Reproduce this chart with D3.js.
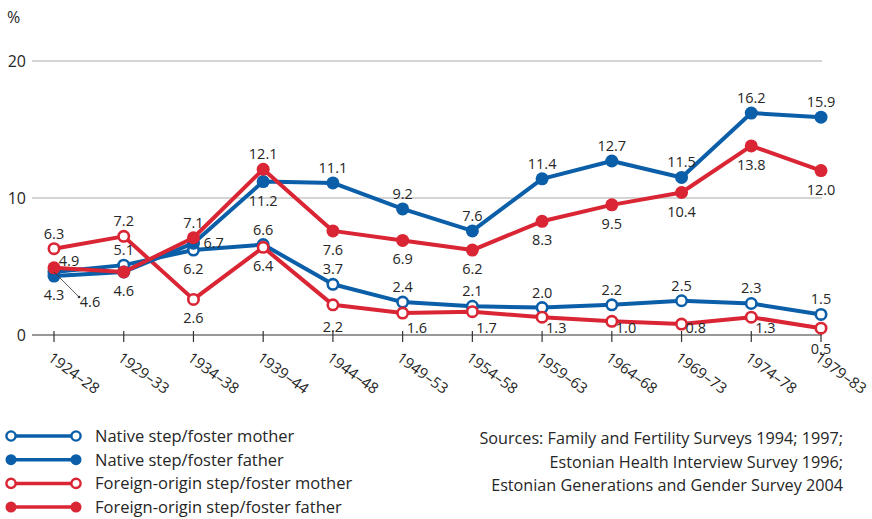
<!DOCTYPE html>
<html>
<head>
<meta charset="utf-8">
<script src="https://cdn.jsdelivr.net/npm/d3@7"></script>
<style>
  body { margin: 0; background: #fff; }
  svg text { font-family: "Open Sans", "Noto Sans", sans-serif; fill: #262626; }
</style>
</head>
<body>
<div id="chart"></div>
<script>
// data
const cohorts = ['1924–28','1929–33','1934–38','1939–44','1944–48','1949–53',
                 '1954–58','1959–63','1964–68','1969–73','1974–78','1979–83'];
const nativeMother  = [4.6, 5.1, 6.2, 6.6, 3.7, 2.4, 2.1, 2.0, 2.2, 2.5, 2.3, 1.5];
const nativeFather  = [4.3, 4.6, 6.7, 11.2, 11.1, 9.2, 7.6, 11.4, 12.7, 11.5, 16.2, 15.9];
const foreignMother = [6.3, 7.2, 2.6, 6.4, 2.2, 1.6, 1.7, 1.3, 1.0, 0.8, 1.3, 0.5];
const foreignFather = [4.9, 4.6, 7.1, 12.1, 7.6, 6.9, 6.2, 8.3, 9.5, 10.4, 13.8, 12.0];
const yTicks = [0, 10, 20];
const sources = ['Sources: Family and Fertility Surveys 1994; 1997;',
                 'Estonian Health Interview Survey 1996;',
                 'Estonian Generations and Gender Survey 2004'];

// label placement codes: a = above, b = below, r = right, x = on axis right of tick,
// xc = on axis centred, bx = under axis, s = skip, l = leader, n = upper right
const placeNM = ['l','a','b','a','a','a','a','a','a','a','a','a'];
const placeNF = ['b','b','r','b','a','a','a','a','a','a','a','a'];
const placeFM = ['a','a','b','b','xc','x','x','x','x','x','x','bx'];
const placeFF = ['n','s','a','a','b','b','b','b','b','b','b','b'];

const blue = '#0b5ea8', red = '#d92534';

const W = 872, H = 519;
const svg = d3.select('#chart').append('svg').attr('width', W).attr('height', H);

const x = d3.scalePoint(cohorts, [54, 821]);
const y = d3.scaleLinear([0, 20], [335, 61]);

// gridlines
svg.append('g').selectAll('line').data(yTicks.filter(d => d > 0)).join('line')
  .attr('x1', 32).attr('x2', 822)
  .attr('y1', d => y(d)).attr('y2', d => y(d))
  .attr('stroke', '#aaa').attr('stroke-width', 1);

// y labels
svg.append('g').selectAll('text').data(yTicks).join('text')
  .attr('x', 26).attr('y', d => y(d) + 6)
  .attr('text-anchor', 'end').style('font-size', '16px')
  .text(d => d);
svg.append('text').attr('x', 7).attr('y', 23).style('font-size', '16px').text('%');

// x axis
const axisG = svg.append('g').attr('transform', `translate(0,${y(0)})`);
axisG.append('line').attr('x1', 32).attr('x2', 822).attr('stroke', '#333').attr('stroke-width', 1.2);
axisG.selectAll('line.tick').data(cohorts).join('line')
  .attr('class', 'tick')
  .attr('x1', d => x(d)).attr('x2', d => x(d))
  .attr('y1', -4).attr('y2', 7)
  .attr('stroke', '#333').attr('stroke-width', 1.2);
axisG.selectAll('text').data(cohorts).join('text')
  .attr('transform', d => `translate(${x(d) - 7},${25}) rotate(36)`)
  .style('font-size', '15px')
  .text(d => d);

const series = [
  {vals: nativeMother,  color: blue, open: true,  place: placeNM},
  {vals: foreignMother, color: red,  open: true,  place: placeFM},
  {vals: nativeFather,  color: blue, open: false, place: placeNF},
  {vals: foreignFather, color: red,  open: false, place: placeFF}
];

const line = d3.line().x((d, i) => x(cohorts[i])).y(d => y(d));

series.forEach(s => {
  const g = svg.append('g');
  g.append('path').attr('d', line(s.vals))
    .attr('fill', 'none').attr('stroke', s.color).attr('stroke-width', 4)
    .attr('stroke-linejoin', 'round');
  g.selectAll('circle').data(s.vals).join('circle')
    .attr('cx', (d, i) => x(cohorts[i])).attr('cy', d => y(d))
    .attr('r', s.open ? 5.2 : 6.5)
    .attr('fill', s.open ? '#fff' : s.color)
    .attr('stroke', s.color).attr('stroke-width', s.open ? 2.6 : 0);
});

// value labels
const fmt = d3.format('.1f');
series.forEach(s => {
  s.vals.forEach((v, i) => {
    const p = s.place[i];
    if (p === 's') return;
    const cx = x(cohorts[i]), cy = y(v);
    let tx = cx, ty = cy, anchor = 'middle';
    if (p === 'a') ty = cy - 10;
    else if (p === 'b') ty = cy + 24;
    else if (p === 'r') { tx = cx + 10; ty = cy + 5; anchor = 'start'; }
    else if (p === 'x') { tx = cx + 4; ty = y(0) - 2; anchor = 'start'; }
    else if (p === 'xc') ty = y(0) - 3;
    else if (p === 'bx') ty = y(0) + 19;
    else if (p === 'n') { tx = cx + 15; ty = cy - 2; }
    else if (p === 'l') {
      svg.append('line').attr('x1', cx).attr('y1', cy).attr('x2', cx + 25).attr('y2', cy + 25)
        .attr('stroke', '#333').attr('stroke-width', 0.8);
      svg.append('circle').attr('cx', cx + 25).attr('cy', cy + 25).attr('r', 1.3).attr('fill', '#333');
      tx = cx + 36; ty = cy + 35;
    }
    svg.append('text').attr('x', tx).attr('y', ty)
      .attr('text-anchor', anchor).style('font-size', '14.5px')
      .text(fmt(v));
  });
});

// legend
const legendItems = [
  {label: 'Native step/foster mother', color: blue, open: true},
  {label: 'Native step/foster father', color: blue, open: false},
  {label: 'Foreign-origin step/foster mother', color: red, open: true},
  {label: 'Foreign-origin step/foster father', color: red, open: false}
];
const lg = svg.append('g').selectAll('g').data(legendItems).join('g')
  .attr('transform', (d, i) => `translate(0,${436 + i * 23.7})`);
lg.append('line').attr('x1', 11).attr('x2', 76)
  .attr('stroke', d => d.color).attr('stroke-width', 3.5);
[11, 76].forEach(cx => {
  lg.append('circle').attr('cx', cx).attr('r', d => d.open ? 4.6 : 5.5)
    .attr('fill', d => d.open ? '#fff' : d.color)
    .attr('stroke', d => d.color).attr('stroke-width', d => d.open ? 2.4 : 0);
});
lg.append('text').attr('x', 95).attr('y', 6).style('font-size', '16.5px').text(d => d.label);

// sources
svg.append('g').selectAll('text').data(sources).join('text')
  .attr('x', 843).attr('y', (d, i) => 444 + i * 23.5)
  .attr('text-anchor', 'end').style('font-size', '16.2px')
  .text(d => d);
</script>
</body>
</html>
